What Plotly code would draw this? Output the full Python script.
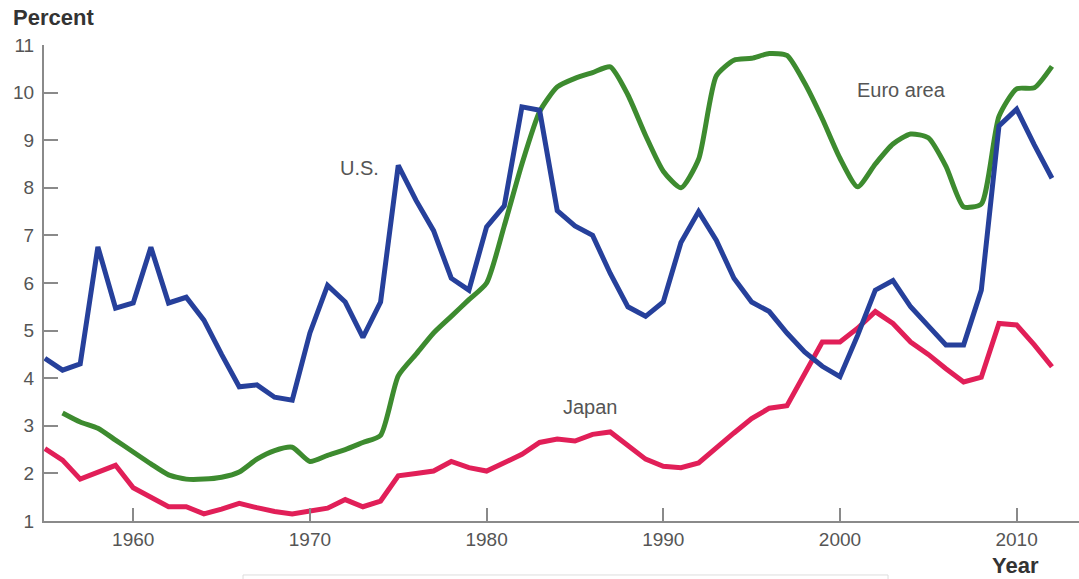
import plotly.graph_objects as go

years_us = list(range(1955, 2013))
us = [4.42, 4.17, 4.3, 6.76, 5.47, 5.58, 6.75, 5.58, 5.7, 5.22,
      4.5, 3.82, 3.86, 3.6, 3.54, 4.95, 5.95, 5.6, 4.86, 5.6,
      8.47, 7.74, 7.1, 6.1, 5.85, 7.18, 7.62, 9.7, 9.63, 7.52,
      7.2, 7.0, 6.2, 5.5, 5.3, 5.6, 6.85, 7.5, 6.9, 6.1,
      5.6, 5.4, 4.95, 4.55, 4.25, 4.03, 4.9, 5.85, 6.05, 5.5,
      5.1, 4.7, 4.7, 5.85, 9.3, 9.65, 8.9, 8.2]

years_euro = list(range(1956, 2013))
euro = [3.27, 3.08, 2.95, 2.7, 2.45, 2.2, 1.97, 1.88, 1.88, 1.92,
        2.03, 2.3, 2.48, 2.55, 2.25, 2.38, 2.5, 2.65, 2.8, 4.05,
        4.5, 4.95, 5.3, 5.65, 6.0, 7.2, 8.5, 9.6, 10.12, 10.3,
        10.42, 10.54, 9.95, 9.1, 8.35, 8.0, 8.6, 10.35, 10.68, 10.72,
        10.82, 10.78, 10.2, 9.45, 8.62, 8.02, 8.5, 8.92, 9.13, 9.05,
        8.45, 7.6, 7.66, 9.5, 10.08, 10.1, 10.55]

years_japan = list(range(1955, 2013))
japan = [2.52, 2.28, 1.88, 2.02, 2.17, 1.7, 1.5, 1.3, 1.3, 1.15,
         1.25, 1.37, 1.28, 1.2, 1.15, 1.2, 1.27, 1.45, 1.3, 1.42,
         1.95, 2.0, 2.05, 2.25, 2.12, 2.05, 2.22, 2.4, 2.65, 2.72,
         2.68, 2.82, 2.87, 2.6, 2.3, 2.15, 2.12, 2.22, 2.55, 2.85,
         3.15, 3.37, 3.42, 4.1, 4.76, 4.76, 5.05, 5.4, 5.15, 4.76,
         4.5, 4.2, 3.92, 4.02, 5.15, 5.12, 4.7, 4.24]

y_ticks = [1, 2, 3, 4, 5, 6, 7, 8, 9, 10, 11]
x_ticks = [1960, 1970, 1980, 1990, 2000, 2010]

series_labels = ["U.S.", "Euro area", "Japan"]
label_x = [1972.8, 2003.5, 1985.9]
label_y = [8.42, 10.05, 3.39]

BLUE = "#26409b"
GREEN = "#3d8b2f"
RED = "#e11f58"
AXIS = "#8a8a8a"
TEXT = "#555555"
FONT = "Liberation Sans, Arial, sans-serif"

fig = go.Figure()
fig.add_trace(go.Scatter(x=years_euro, y=euro, mode="lines",
                         line=dict(color=GREEN, width=5, shape="spline", smoothing=0.6),
                         name="Euro area"))
fig.add_trace(go.Scatter(x=years_japan, y=japan, mode="lines",
                         line=dict(color=RED, width=5),
                         name="Japan"))
fig.add_trace(go.Scatter(x=years_us, y=us, mode="lines",
                         line=dict(color=BLUE, width=5),
                         name="U.S."))

for t, xx, yy in zip(series_labels, label_x, label_y):
    fig.add_annotation(x=xx, y=yy, text=t, showarrow=False,
                       font=dict(family=FONT, size=20, color=TEXT))

fig.add_annotation(xref="paper", yref="paper", x=-0.032, y=1.057, text="<b>Percent</b>",
                   showarrow=False, xanchor="left", yanchor="middle",
                   font=dict(family=FONT, size=22, color="#333333"))
fig.add_annotation(xref="paper", yref="paper", x=0.939, y=-0.0945, text="<b>Year</b>",
                   showarrow=False, xanchor="center", yanchor="middle",
                   font=dict(family=FONT, size=22, color="#333333"))

fig.add_shape(type="rect", xref="paper", yref="paper", x0=0.1923, x1=0.8155,
              y0=-0.1134, y1=-0.25, line=dict(color="#dddddd", width=1))

fig.update_layout(
    width=1079, height=579,
    margin=dict(l=44, r=0, t=45, b=58, autoexpand=False),
    paper_bgcolor="white", plot_bgcolor="white",
    showlegend=False,
    xaxis=dict(range=[1954.95, 2013.53], tickvals=x_ticks, ticks="inside",
               ticklen=13, tickwidth=2, tickcolor=AXIS, showline=True,
               linecolor=AXIS, linewidth=2, showgrid=False, zeroline=False,
               automargin=False,
               tickfont=dict(family=FONT, size=19, color=TEXT)),
    yaxis=dict(range=[1, 11], tickvals=y_ticks, ticks="inside",
               ticklen=14, tickwidth=2, tickcolor=AXIS, showline=True,
               linecolor=AXIS, linewidth=2, showgrid=False, zeroline=False,
               automargin=False, ticklabelstandoff=4,
               tickfont=dict(family=FONT, size=19, color=TEXT)),
)

fig.write_html("out.html", config={"displayModeBar": False},
               post_script="document.body.style.margin='0px';")
